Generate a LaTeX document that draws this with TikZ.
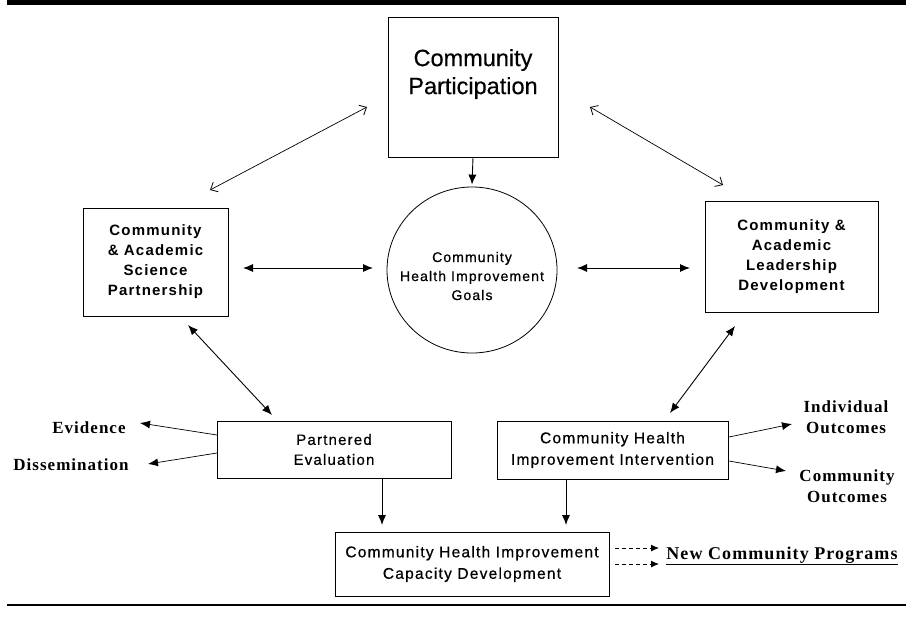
\documentclass[tikz,border=0pt]{standalone}
\usepackage{fontspec}
\setmainfont{Liberation Serif}
\setsansfont{Liberation Sans}
\newfontfamily\boxfont[LetterSpace=8,FakeBold=0.6]{Liberation Sans}
\newfontfamily\boldbox[LetterSpace=8]{Liberation Sans Bold}
\newfontfamily\plainsans[FakeBold=0.4]{Liberation Sans}
\newfontfamily\labfont[LetterSpace=6]{Liberation Serif Bold}
\usetikzlibrary{arrows.meta,shapes.geometric}
\begin{document}
\begin{tikzpicture}[x=1pt,y=-1pt,
  box/.style={draw,line width=1pt,inner sep=0pt,align=center},
  boldtxt/.style={font=\boldbox\fontsize{15}{20}\selectfont},
  regtxt/.style={font=\boxfont\fontsize{15}{20}\selectfont},
  midtxt/.style={font=\boxfont\fontsize{15.5}{21.5}\selectfont},
  lab/.style={font=\labfont\fontsize{17}{21}\selectfont,inner sep=0pt,align=center},
  filled/.style={line width=0.9pt,-{Latex[length=10pt,width=8pt]}},
  filledboth/.style={line width=0.9pt,{Latex[length=10pt,width=8pt]}-{Latex[length=10pt,width=8pt]}},
  openboth/.style={line width=0.7pt,{Straight Barb[length=6pt,width=11pt,line width=0.8pt]}-{Straight Barb[length=6pt,width=11pt,line width=0.8pt]}},
  dasharrow/.style={line width=0.9pt,dash pattern=on 4pt off 3pt,-{Latex[length=8pt,width=7pt]}}]
\useasboundingbox (0,0) rectangle (917,621);
% rules
\fill (7,0) rectangle (906,4.5);
\draw[line width=1.6pt] (7,605) -- (906,605);

% nodes
\node[box,minimum width=170,minimum height=140] (cp) at (473,87) {};
\node[font=\plainsans\fontsize{23.5}{28}\selectfont,align=center,inner sep=0pt] (cpt) at (473,74) {Community\\Participation};

\node[draw,ellipse,line width=0.8pt,inner sep=0pt,minimum width=170,minimum height=166] (ell) at (472,270) {};
\node[font=\boxfont\fontsize{14}{19}\selectfont,align=center,inner sep=0pt] (ellt) at (472,276) {Community\\Health Improvement\\Goals};

\node[box,boldtxt,minimum width=145,minimum height=108] (lb) at (155.5,262) {Community\\\& Academic\\Science\\Partnership};
\node[box,boldtxt,minimum width=173,minimum height=111] (rb) at (791.5,256.5) {Community \&\\Academic\\Leadership\\Development};

\node[box,regtxt,minimum width=234,minimum height=57] (pe) at (334,449.5) {Partnered\\Evaluation};
\node[box,midtxt,minimum width=231,minimum height=58] (ci) at (612.5,450) {Community Health\\Improvement Intervention};
\node[box,midtxt,minimum width=274,minimum height=64] (cd) at (472,564) {Community Health Improvement\\Capacity Development};

\node[lab] (ev) at (89,428) {Evidence};
\node[lab] (dis) at (71,465) {Dissemination};
\node[lab] (ind) at (846,417) {Individual\\Outcomes};
\node[lab] (co) at (847,486) {Community\\Outcomes};
\node[font=\labfont\fontsize{18}{21}\selectfont,inner sep=0pt] (ncp) at (782,556) {\underline{New Community Programs}};

% connector end points
\coordinate (a1) at (210,190); \coordinate (a2) at (367,107);
\coordinate (b1) at (590,107); \coordinate (b2) at (723,185);
\coordinate (c1) at (243,268); \coordinate (c2) at (373,268);
\coordinate (d1) at (577,268); \coordinate (d2) at (690,268);
\coordinate (e1) at (188,325); \coordinate (e2) at (272,415);
\coordinate (f1) at (735,326); \coordinate (f2) at (670,413);
\coordinate (g1) at (217,435); \coordinate (g2) at (140,423);
\coordinate (h1) at (217,453); \coordinate (h2) at (148,464);
\coordinate (i1) at (729,437); \coordinate (i2) at (792,424);
\coordinate (j1) at (729,461); \coordinate (j2) at (786,471);
\coordinate (k1) at (382,478.5); \coordinate (k2) at (382,525);
\coordinate (l1) at (566,479.5); \coordinate (l2) at (566,525);
\coordinate (m1) at (615,548); \coordinate (m2) at (659,548);
\coordinate (n1) at (615,564); \coordinate (n2) at (659,564);

\draw[filled] (cp.south) -- ([yshift=2pt]ell.north);
\draw[openboth] (a1) -- (a2);
\draw[openboth] (b1) -- (b2);
\draw[filledboth] (c1) -- (c2);
\draw[filledboth] (d1) -- (d2);
\draw[filledboth] (e1) -- (e2);
\draw[filledboth] (f1) -- (f2);
\draw[filled,line width=0.7pt] (g1) -- (g2);
\draw[filled,line width=0.7pt] (h1) -- (h2);
\draw[filled,line width=0.7pt] (i1) -- (i2);
\draw[filled,line width=0.7pt] (j1) -- (j2);
\draw[filled] (k1) -- (k2);
\draw[filled] (l1) -- (l2);
\draw[dasharrow] (m1) -- (m2);
\draw[dasharrow] (n1) -- (n2);
\end{tikzpicture}
\end{document}
